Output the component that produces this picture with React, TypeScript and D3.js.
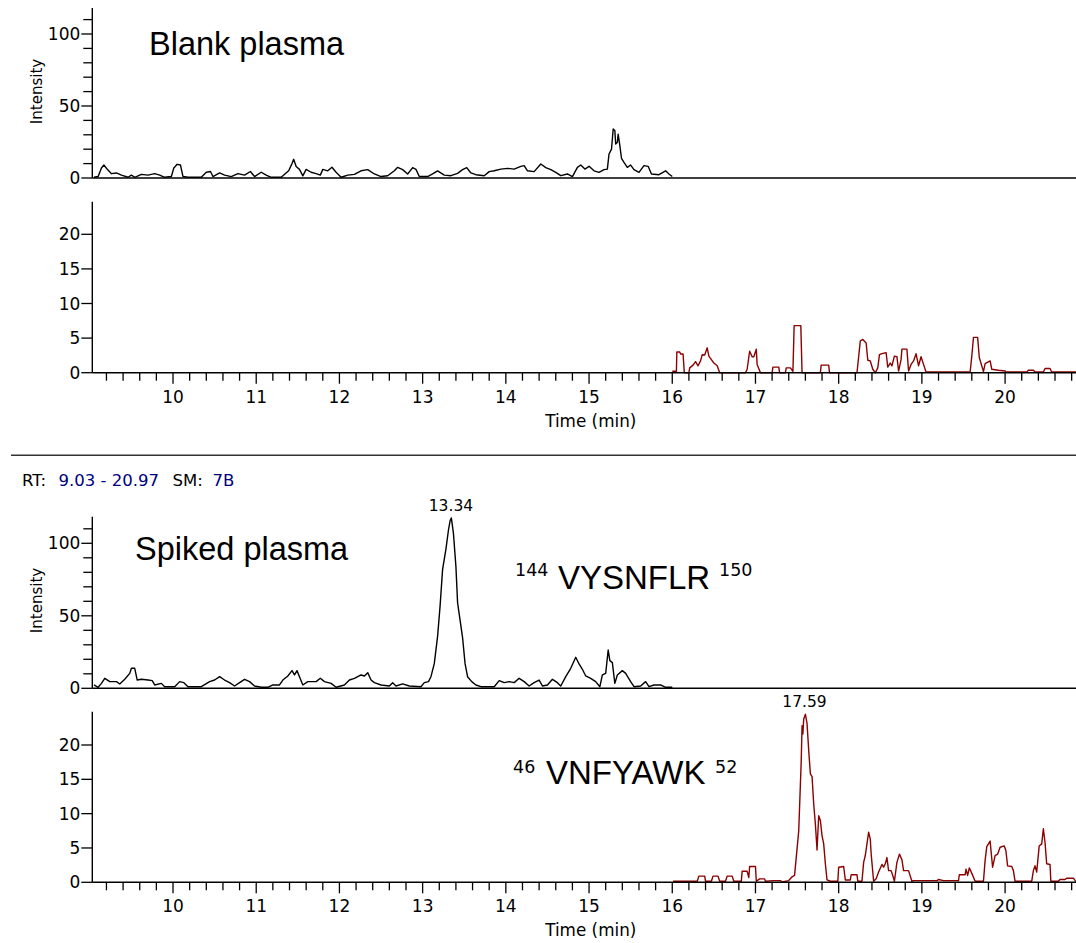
import React from "react";
import * as d3 from "d3";

type Pt = [number, number];

const timeDomain: [number, number] = [9.03, 20.97];
const timeMajorTicks = [10, 11, 12, 13, 14, 15, 16, 17, 18, 19, 20];
const timeMinorTicks = d3.range(46, 105).map((k) => +(k * 0.2).toFixed(1)).filter((t) => t > 9.03 && t < 20.97);
const bigYMajor = [0, 50, 100];
const bigYMinor = [10, 20, 30, 40, 60, 70, 80, 90, 110];
const smallYMajor = [0, 5, 10, 15, 20];

const blankTop: Pt[] = [
  [9.05,0.5],[9.10,1],[9.14,7],[9.17,9],[9.21,6],[9.26,3],[9.32,3.5],[9.38,2],[9.46,0.5],[9.50,2],[9.54,0.5],[9.62,2.5],[9.70,2],[9.78,3],[9.84,2],[9.90,0.5],[9.98,1],[10.01,7],[10.05,9.5],[10.09,9],[10.12,1],[10.18,0.5],[10.34,0.5],[10.40,4],[10.45,4.5],[10.48,1],[10.56,3.5],[10.62,2],[10.70,1],[10.78,3],[10.86,2],[10.93,4.5],[10.98,1],[11.06,4],[11.12,2],[11.18,0.5],[11.30,0.5],[11.39,5],[11.43,10],[11.45,13],[11.48,8],[11.52,6],[11.56,1.5],[11.60,6],[11.66,4],[11.72,3],[11.77,2],[11.80,6],[11.86,5],[11.91,7.5],[11.96,4],[12.02,0.5],[12.10,2],[12.18,2.5],[12.26,5],[12.34,5.8],[12.42,2.8],[12.50,1],[12.58,1.6],[12.66,5],[12.70,7.4],[12.76,5.8],[12.82,2.8],[12.88,7.2],[12.92,6],[12.96,1],[13.06,1],[13.12,2.8],[13.18,4.9],[13.26,2],[13.34,1.6],[13.42,3.2],[13.48,5.8],[13.53,7.2],[13.58,3.5],[13.64,2.3],[13.74,1.6],[13.80,4.4],[13.86,5],[13.94,6.2],[14.02,6.7],[14.10,6.2],[14.18,8.1],[14.22,8.6],[14.26,5],[14.34,4.4],[14.42,9.7],[14.48,7.2],[14.54,5.8],[14.60,3.9],[14.66,1.6],[14.74,2.8],[14.80,1],[14.86,7.4],[14.90,9],[14.95,6.2],[15.00,8.1],[15.06,5],[15.12,3.9],[15.18,5.8],[15.22,6.2],[15.24,16.7],[15.27,20],[15.29,34],[15.31,33],[15.32,23.6],[15.34,24.8],[15.35,30.5],[15.37,22.5],[15.39,13.7],[15.42,10.9],[15.46,7.4],[15.50,9],[15.54,5.8],[15.60,3.9],[15.66,8.6],[15.71,8.1],[15.75,2.8],[15.84,2.3],[15.92,5],[15.96,2.8],[16.00,1]
];

const blankBottom: Pt[] = [
  [16.00,0.2],[16.05,0.2],[16.055,3.0],[16.09,3.0],[16.10,2.7],[16.13,2.7],[16.145,0],[16.20,0],[16.21,0.7],[16.25,1.1],[16.28,1.6],[16.31,1.0],[16.34,1.7],[16.36,2.6],[16.39,2.55],[16.42,3.6],[16.44,2.4],[16.47,1.9],[16.50,1.4],[16.54,1.0],[16.57,0],[16.88,0],[16.90,0.5],[16.93,3.1],[16.96,2.3],[16.98,2.3],[17.01,3.4],[17.02,1.2],[17.06,0],[17.20,0],[17.21,0.8],[17.28,0.8],[17.29,0],[17.36,0],[17.37,0.7],[17.42,0.7],[17.45,0.2],[17.465,6.8],[17.545,6.8],[17.56,0],[17.78,0],[17.79,1.1],[17.88,1.1],[17.89,0],[18.22,0],[18.26,4.6],[18.29,4.8],[18.33,4.3],[18.35,1.8],[18.38,1.7],[18.41,0.5],[18.44,0],[18.47,0.7],[18.49,2.6],[18.52,2.75],[18.57,2.9],[18.59,0.8],[18.62,1.4],[18.64,1.0],[18.67,2.4],[18.70,2.3],[18.72,0.24],[18.75,1.9],[18.76,3.4],[18.82,3.4],[18.84,0.24],[18.87,1.2],[18.90,1.7],[18.93,2.75],[18.96,1.0],[18.99,2.3],[19.02,1.2],[19.05,0.1],[19.58,0.1],[19.60,2.4],[19.62,5.1],[19.67,5.1],[19.69,2.2],[19.74,0.15],[19.76,1.3],[19.82,1.7],[19.84,0.5],[19.92,0.35],[20.00,0.24],[20.01,0.1],[20.26,0.1],[20.28,0.35],[20.34,0.35],[20.36,0.1],[20.46,0.1],[20.48,0.6],[20.54,0.6],[20.56,0.1],[20.97,0.1]
];

const spikedTop: Pt[] = [
  [9.05,2.3],[9.10,0.7],[9.14,3.4],[9.18,6.9],[9.24,4.6],[9.32,4.6],[9.36,3.0],[9.42,6.2],[9.48,10.3],[9.50,13.8],[9.54,13.8],[9.57,5.7],[9.62,6.2],[9.70,5.7],[9.75,5.3],[9.78,2.3],[9.86,3.4],[9.90,1.1],[10.02,1.1],[10.08,4.6],[10.13,3.9],[10.18,1.1],[10.34,1.1],[10.44,4.6],[10.50,5.7],[10.56,8.0],[10.62,5.7],[10.68,3.9],[10.74,1.6],[10.80,3.9],[10.86,6.2],[10.92,4.6],[10.98,1.6],[11.06,0.7],[11.14,0.7],[11.20,2.3],[11.28,2.3],[11.32,5.7],[11.38,8.5],[11.43,12.2],[11.46,9.2],[11.49,12.2],[11.52,8.0],[11.56,2.3],[11.62,4.6],[11.72,4.6],[11.77,6.9],[11.82,4.6],[11.90,3.4],[11.96,0.7],[12.06,2.3],[12.12,5.7],[12.18,6.9],[12.26,9.2],[12.30,8.5],[12.34,10.8],[12.38,5.7],[12.42,3.9],[12.50,2.3],[12.60,1.6],[12.64,3.9],[12.68,1.6],[12.76,3.0],[12.84,1.6],[12.98,1.1],[13.02,3.9],[13.07,4.6],[13.10,8],[13.14,17],[13.18,36],[13.21,57],[13.24,82],[13.28,96],[13.31,109],[13.33,115.5],[13.345,117.5],[13.37,107],[13.40,84],[13.42,59],[13.45,47],[13.48,35],[13.51,17],[13.54,8],[13.59,4.6],[13.64,2.3],[13.70,1.1],[13.86,1.1],[13.92,5.3],[13.98,3.9],[14.04,4.6],[14.10,3.9],[14.16,6.9],[14.22,4.6],[14.28,1.6],[14.34,3.9],[14.40,5.7],[14.44,1.6],[14.50,2.3],[14.56,6.2],[14.62,3.9],[14.66,1.6],[14.72,8.0],[14.78,13.8],[14.84,21.4],[14.88,16.8],[14.92,13.1],[14.96,8.5],[15.02,6.9],[15.08,4.6],[15.13,1.1],[15.16,9.2],[15.20,10.3],[15.23,26.4],[15.25,19.1],[15.28,17.7],[15.31,3.4],[15.34,9.2],[15.40,12.2],[15.44,10.3],[15.50,4.6],[15.54,1.1],[15.62,1.6],[15.68,4.6],[15.72,1.1],[15.78,2.3],[15.86,2.3],[15.92,0.7],[16.00,0.7]
];

const spikedBottom: Pt[] = [
  [16.01,0.15],[16.30,0.15],[16.32,0.9],[16.39,0.9],[16.40,0.15],[16.47,0.15],[16.49,0.9],[16.55,0.9],[16.57,0.15],[16.64,0.15],[16.66,0.9],[16.72,0.9],[16.74,0.15],[16.83,0.15],[16.84,1.6],[16.90,1.6],[16.92,0.7],[16.93,2.3],[17.00,2.3],[17.01,0.15],[17.05,0.5],[17.11,0.5],[17.12,0.15],[17.22,0.25],[17.30,0.25],[17.32,0.05],[17.40,0.25],[17.44,0.8],[17.47,1.0],[17.49,3.6],[17.52,7.5],[17.53,10.9],[17.55,17.7],[17.56,22.8],[17.57,21.6],[17.58,23.8],[17.60,24.5],[17.62,23.1],[17.64,19.2],[17.66,15.8],[17.68,15.4],[17.70,11.4],[17.72,8.5],[17.74,4.7],[17.76,9.7],[17.78,9.0],[17.80,6.8],[17.82,5.6],[17.84,2.7],[17.86,0.34],[17.90,0.15],[17.99,0.15],[18.00,2.2],[18.06,2.3],[18.08,0.34],[18.14,0.34],[18.15,1.1],[18.22,1.1],[18.23,0.15],[18.28,0.15],[18.30,2.9],[18.32,3.9],[18.34,5.6],[18.36,7.3],[18.38,6.3],[18.39,4.2],[18.42,0.15],[18.45,0.5],[18.48,1.5],[18.52,2.6],[18.54,2.2],[18.56,2.7],[18.58,3.6],[18.60,1.7],[18.63,1.7],[18.65,1.0],[18.67,0.15],[18.70,2.9],[18.73,4.1],[18.76,3.3],[18.78,1.7],[18.84,1.7],[18.88,0.15],[18.90,0.25],[19.18,0.25],[19.20,0.4],[19.26,0.25],[19.44,0.25],[19.45,1.1],[19.52,1.1],[19.53,1.9],[19.55,1.0],[19.57,2.1],[19.60,1.3],[19.64,0.15],[19.74,0.15],[19.76,3.2],[19.78,5.2],[19.82,6.0],[19.85,2.2],[19.88,3.9],[19.91,4.1],[19.94,5.1],[19.99,5.3],[20.01,4.6],[20.03,2.4],[20.08,2.3],[20.10,1.7],[20.12,0.15],[20.32,0.15],[20.34,1.7],[20.36,2.4],[20.38,1.5],[20.41,5.3],[20.44,5.6],[20.46,7.8],[20.48,5.8],[20.50,2.7],[20.54,2.6],[20.55,0.15],[20.64,0.15],[20.66,0.4],[20.72,0.4],[20.74,0.6],[20.82,0.6],[20.85,0.15],[20.97,0.15]
];

const peakLabels = [
  { panel: 2, t: 13.34, v: 117.5, text: "13.34" },
  { panel: 3, t: 17.59, v: 24.5, text: "17.59" },
];

const W = 1076;
const H = 943;
const AXIS_X = 92.3;
const SMALL = "'DejaVu Sans', Verdana, sans-serif";
const BIG = "'Liberation Sans', Arial, sans-serif";
const RED = "#8b0000";

const x = d3.scaleLinear().domain(timeDomain).range([AXIS_X, 1085.8]);

interface PanelDef {
  data: Pt[];
  color: string;
  yMax: number;
  y0: number;
  yTop: number;
  major: number[];
  minor: number[];
  xTicks: boolean;
}

const panels: PanelDef[] = [
  { data: blankTop, color: "#000", yMax: 118, y0: 178, yTop: 178 - 118 * 1.44, major: bigYMajor, minor: bigYMinor, xTicks: false },
  { data: blankBottom, color: RED, yMax: 24.7, y0: 372.7, yTop: 372.7 - 24.7 * 6.92, major: smallYMajor, minor: [], xTicks: true },
  { data: spikedTop, color: "#000", yMax: 118.3, y0: 688.3, yTop: 688.3 - 118.3 * 1.45, major: bigYMajor, minor: bigYMinor, xTicks: false },
  { data: spikedBottom, color: RED, yMax: 24.85, y0: 882.3, yTop: 882.3 - 24.85 * 6.865, major: smallYMajor, minor: [], xTicks: true },
];

function Panel({ p }: { p: PanelDef }) {
  const y = d3.scaleLinear().domain([0, p.yMax]).range([p.y0, p.yTop]);
  const line = d3
    .line<Pt>()
    .x((d) => x(d[0]))
    .y((d) => y(d[1]));
  return (
    <g>
      <path d={line(p.data) || ""} fill="none" stroke={p.color} strokeWidth={1.4} strokeLinejoin="round" />
      <line x1={AXIS_X} x2={AXIS_X} y1={y(p.yMax)} y2={y(0)} stroke="#000" strokeWidth={1.4} />
      <line x1={AXIS_X} x2={x(timeDomain[1])} y1={y(0)} y2={y(0)} stroke="#000" strokeWidth={1.4} />
      {p.major.map((v) => (
        <g key={"M" + v}>
          <line x1={AXIS_X - 11} x2={AXIS_X} y1={y(v)} y2={y(v)} stroke="#000" strokeWidth={1.3} />
          <text x={AXIS_X - 12} y={y(v)} dy="0.36em" textAnchor="end" fontFamily={SMALL} fontSize={17} fill="#000">
            {v}
          </text>
        </g>
      ))}
      {p.minor.map((v) => (
        <line key={"m" + v} x1={AXIS_X - 9} x2={AXIS_X} y1={y(v)} y2={y(v)} stroke="#000" strokeWidth={1.3} />
      ))}
      {p.xTicks && (
        <g>
          {timeMinorTicks.map((t) => {
            const isMajor = Math.abs(t - Math.round(t)) < 1e-6;
            return (
              <line key={"t" + t} x1={x(t)} x2={x(t)} y1={y(0)} y2={y(0) + (isMajor ? 11 : 8)} stroke="#000" strokeWidth={1.3} />
            );
          })}
          {timeMajorTicks.map((t) => (
            <text key={"l" + t} x={x(t)} y={y(0) + 30} textAnchor="middle" fontFamily={SMALL} fontSize={17} fill="#000">
              {t}
            </text>
          ))}
          <text x={590.8} y={y(0) + 54} textAnchor="middle" fontFamily={SMALL} fontSize={16.8} fill="#000">
            Time (min)
          </text>
        </g>
      )}
    </g>
  );
}

export default function App() {
  const yForPeak = (pi: number, v: number) => {
    const p = panels[pi];
    return d3.scaleLinear().domain([0, p.yMax]).range([p.y0, p.yTop])(v);
  };
  return (
    <svg
      width={W}
      height={H}
      viewBox={`0 0 ${W} ${H}`}
      style={{ position: "absolute", left: 0, top: 0, background: "#fff", display: "block" }}
    >
      <rect x={0} y={0} width={W} height={H} fill="#fff" />
      {panels.map((p, i) => (
        <Panel key={i} p={p} />
      ))}

      {/* y-axis titles */}
      <text transform="translate(42,91.5) rotate(-90)" textAnchor="middle" fontFamily={SMALL} fontSize={15} fill="#000">
        Intensity
      </text>
      <text transform="translate(42,600.5) rotate(-90)" textAnchor="middle" fontFamily={SMALL} fontSize={15} fill="#000">
        Intensity
      </text>

      {/* sample titles */}
      <text x={149} y={54.5} fontFamily={BIG} fontSize={32.5} fill="#000">Blank plasma</text>
      <text x={135} y={559.5} fontFamily={BIG} fontSize={32.5} fill="#000">Spiked plasma</text>

      {/* peptide labels */}
      <text x={515} y={576} fontFamily={SMALL} fontSize={17.5} fill="#000">144</text>
      <text x={558} y={588.5} fontFamily={BIG} fontSize={33} fill="#000">VYSNFLR</text>
      <text x={719} y={576} fontFamily={SMALL} fontSize={17.5} fill="#000">150</text>

      <text x={513} y={773} fontFamily={SMALL} fontSize={17.5} fill="#000">46</text>
      <text x={546} y={783.5} fontFamily={BIG} fontSize={33} fill="#000">VNFYAWK</text>
      <text x={715} y={773} fontFamily={SMALL} fontSize={17.5} fill="#000">52</text>

      {/* peak annotations */}
      {peakLabels.map((pl) => (
        <text
          key={pl.text}
          x={x(pl.t)}
          y={yForPeak(pl.panel, pl.v) - 7}
          textAnchor="middle"
          fontFamily={SMALL}
          fontSize={15.5}
          fill="#000"
        >
          {pl.text}
        </text>
      ))}

      {/* separator and RT header */}
      <line x1={11} x2={W} y1={455.3} y2={455.3} stroke="#333" strokeWidth={1.5} />
      <text y={485.5} fontFamily={SMALL} fontSize={16.5}>
        <tspan x={22} fill="#000">RT:</tspan>
        <tspan x={58.5} fill="#000080">9.03 - 20.97</tspan>
        <tspan x={172.5} fill="#000">SM:</tspan>
        <tspan x={212.5} fill="#000080">7B</tspan>
      </text>
    </svg>
  );
}
